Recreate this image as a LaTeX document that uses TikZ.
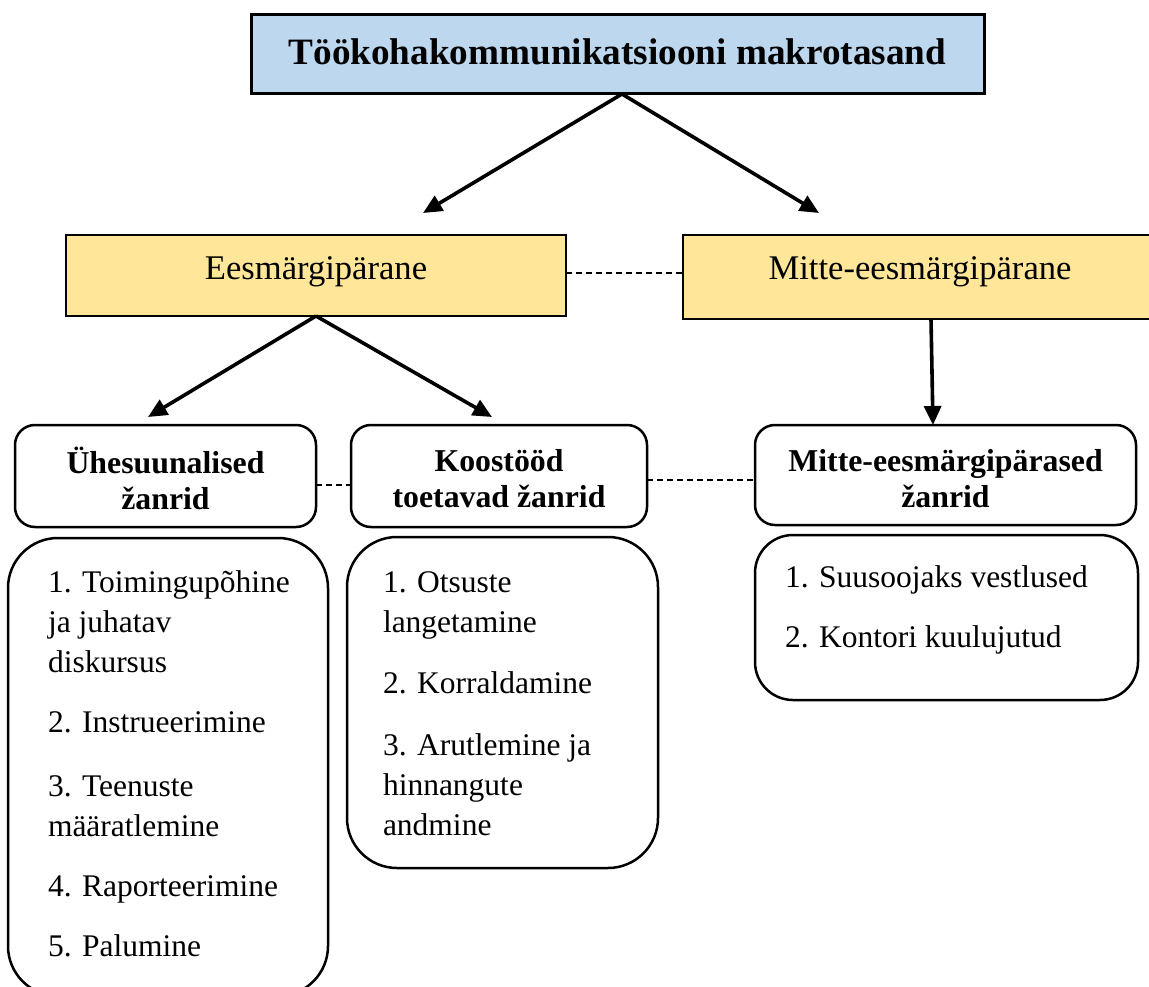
\documentclass[tikz,border=0pt]{standalone}
\usepackage{fontspec}
\setmainfont{Liberation Serif}
\usetikzlibrary{arrows.meta}
\definecolor{topblue}{HTML}{BDD7EE}
\definecolor{midyellow}{HTML}{FFE699}
\tikzset{
  every node/.style={inner sep=0pt, outer sep=0pt},
  topbox/.style={draw=black, line width=3pt, fill=topblue, minimum width=733pt, minimum height=79pt},
  midbox/.style={draw=black, line width=2.6pt, fill=midyellow, minimum height=81pt},
  genrebox/.style={draw=black, line width=2.5pt, rounded corners=20pt, minimum height=102pt},
  listbox/.style={draw=black, line width=2.5pt, rounded corners=50pt},
  boldlabel/.style={font=\fontsize{31.8}{36}\selectfont\bfseries, align=center},
  plainlabel/.style={font=\fontsize{34.6}{40}\selectfont},
  listtext/.style={font=\fontsize{31.5}{40}\selectfont, align=left, anchor=north west},
  arr/.style={line width=3.6pt, -{Triangle[length=19pt,width=17pt]}},
  dashline/.style={line width=1.6pt, dash pattern=on 6pt off 4pt}
}
\begin{document}
\begin{tikzpicture}[x=1pt,y=-1pt]
\useasboundingbox (0,0) rectangle (1149,987);
% top
\node[topbox] (top) at (617.5,54.5) {};
\node[font=\fontsize{37.2}{40}\selectfont\bfseries] (toplbl) at (617.5,52) {Töökohakommunikatsiooni makrotasand};
% middle
\node[midbox, minimum width=500pt] (eesm) at (316,275.5) {};
\node[plainlabel] (eesmlbl) at (316,272) {Eesmärgipärane};
\node[midbox, minimum width=470pt, minimum height=84pt] (mitte) at (918,277) {};
\node[plainlabel] (mittelbl) at (920,272) {Mitte-eesmärgipärane};
% genre boxes
\node[genrebox, minimum width=301pt] (uhe) at (165.5,476) {};
\node[boldlabel] (uhelbl) at (165.5,478) {Ühesuunalised\\žanrid};
\node[genrebox, minimum width=296pt] (koos) at (499,476) {};
\node[boldlabel] (kooslbl) at (499,479) {Koostööd\\toetavad žanrid};
\node[genrebox, minimum width=381pt, minimum height=100pt] (mg) at (945.5,475) {};
\node[boldlabel] (mglbl) at (945.5,479) {Mitte-eesmärgipärased\\žanrid};
% list boxes
\node[listbox, minimum width=320pt, minimum height=458pt] (l1) at (168,767) {};
\node[listbox, minimum width=311pt, minimum height=331pt] (l2) at (502.5,702.5) {};
\node[listbox, rounded corners=38pt, minimum width=383pt, minimum height=165pt] (l3) at (946.5,617.5) {};
\node[listtext] (l1txt) at (48,571) {1. Toimingupõhine\\ja juhatav\\diskursus\\[20pt]2. Instrueerimine\\[24pt]3. Teenuste\\määratlemine\\[20pt]4. Raporteerimine\\[20pt]5. Palumine};
\node[listtext] (l2txt) at (383,572) {1. Otsuste\\langetamine\\[21pt]2. Korraldamine\\[22pt]3. Arutlemine ja\\hinnangute\\andmine};
\node[listtext] (l3txt) at (785,566) {1. Suusoojaks vestlused\\[20pt]2. Kontori kuulujutud};
% arrow ends
\coordinate (a1) at (423,213);
\coordinate (a2) at (819,213);
\coordinate (a3) at (148,417);
\coordinate (a4) at (492,417);
\coordinate (topfoot) at (622,94);
\coordinate (eesmfoot) at (316,316);
\coordinate (mittefoot) at (931,319);
\coordinate (mgtop) at (933,425);
\draw[arr] (topfoot) -- (a1);
\draw[arr] (topfoot) -- (a2);
\draw[arr] (eesmfoot) -- (a3);
\draw[arr] (eesmfoot) -- (a4);
\draw[arr] (mittefoot) -- (mgtop);
% dashed
\draw[dashline] (eesm.east |- 0,273) -- (mitte.west |- 0,273);
\draw[dashline] (uhe.east |- 0,485) -- (koos.west |- 0,485);
\draw[dashline] (koos.east |- 0,480) -- (mg.west |- 0,480);
\end{tikzpicture}
\end{document}
